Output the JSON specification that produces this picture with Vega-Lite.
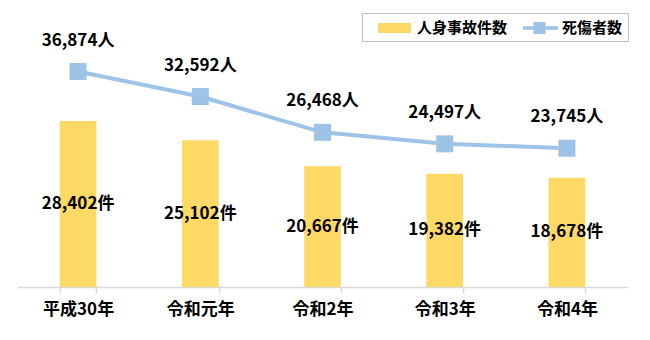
{
  "$schema": "https://vega.github.io/schema/vega-lite/v6.json",
  "width": 611,
  "height": 277,
  "autosize": {"type": "none"},
  "padding": {"left": 17, "top": 10, "right": 22, "bottom": 53},
  "background": "white",
  "config": {
    "view": {"stroke": null},
    "font": "Noto Sans CJK JP"
  },
  "data": {
    "values": [
      {"year": "平成30年", "series": "人身事故件数", "value": 28402},
      {"year": "令和元年", "series": "人身事故件数", "value": 25102},
      {"year": "令和2年", "series": "人身事故件数", "value": 20667},
      {"year": "令和3年", "series": "人身事故件数", "value": 19382},
      {"year": "令和4年", "series": "人身事故件数", "value": 18678},
      {"year": "平成30年", "series": "死傷者数", "value": 36874},
      {"year": "令和元年", "series": "死傷者数", "value": 32592},
      {"year": "令和2年", "series": "死傷者数", "value": 26468},
      {"year": "令和3年", "series": "死傷者数", "value": 24497},
      {"year": "令和4年", "series": "死傷者数", "value": 23745}
    ]
  },
  "encoding": {
    "x": {
      "field": "year",
      "type": "nominal",
      "sort": null,
      "scale": {"paddingInner": 0.7, "paddingOuter": 0.35},
      "axis": {
        "title": null,
        "labelAngle": 0,
        "labelFont": "Noto Sans CJK JP",
        "labelFontSize": 17,
        "labelFontWeight": "bold",
        "labelColor": "#000000",
        "labelPadding": 8,
        "domainColor": "#d9d9d9",
        "domainWidth": 1.5,
        "tickColor": "#d9d9d9",
        "tickWidth": 1.5,
        "tickSize": 6,
        "tickBand": "extent",
        "grid": false
      }
    }
  },
  "layer": [
    {
      "transform": [{"filter": "datum.series === '人身事故件数'"}],
      "mark": {"type": "bar"},
      "encoding": {
        "y": {"field": "value", "type": "quantitative", "scale": {"domain": [0, 47400], "nice": false}, "axis": null},
        "color": {
          "field": "series",
          "type": "nominal",
          "scale": {"domain": ["人身事故件数", "死傷者数"], "range": ["#FFD966", "#9DC3E6"]},
          "legend": {
            "orient": "none",
            "legendX": 345,
            "legendY": 3,
            "direction": "horizontal",
            "title": null,
            "strokeColor": "#bfbfbf",
            "padding": 5,
            "symbolSize": 400,
            "labelOffset": 30,
            "columnPadding": 4,
            "labelFont": "Noto Sans CJK JP",
            "labelFontSize": 15,
            "labelFontWeight": "bold",
            "labelColor": "#000000",
            "encode": {
              "symbols": {
                "update": {
                  "shape": {"signal": "datum.value === '人身事故件数' ? 'M0.1,-0.5H3.4V0.5H0.1Z' : 'M0.1,-0.18H1.15V-0.6H2.35V-0.18H3.6V0.18H2.35V0.6H1.15V0.18H0.1Z'"},
                  "fill": {"scale": "color", "field": "value"},
                  "stroke": {"value": "transparent"},
                  "strokeWidth": {"value": 0},
                  "opacity": {"value": 1}
                }
              }
            }
          }
        }
      }
    },
    {
      "transform": [{"filter": "datum.series === '人身事故件数'"}],
      "mark": {"type": "text", "font": "Noto Sans CJK JP", "fontSize": 17, "fontWeight": "bold", "color": "#000000", "baseline": "middle", "text": {"expr": "format(datum.value, ',') + '件'"}},
      "encoding": {
        "y": {"field": "value", "type": "quantitative", "scale": {"domain": [0, 94800], "nice": false}, "axis": null}
      }
    },
    {
      "transform": [{"filter": "datum.series === '死傷者数'"}],
      "mark": {"type": "line", "strokeWidth": 4},
      "encoding": {
        "y": {"field": "value", "type": "quantitative", "scale": {"domain": [0, 47400], "nice": false}, "axis": null},
        "color": {"field": "series", "type": "nominal"}
      }
    },
    {
      "transform": [{"filter": "datum.series === '死傷者数'"}],
      "mark": {"type": "point", "shape": "square", "filled": true, "size": 289, "color": "#9DC3E6", "opacity": 1},
      "encoding": {
        "y": {"field": "value", "type": "quantitative", "scale": {"domain": [0, 47400], "nice": false}, "axis": null}
      }
    },
    {
      "transform": [{"filter": "datum.series === '死傷者数'"}],
      "mark": {"type": "text", "font": "Noto Sans CJK JP", "fontSize": 17, "fontWeight": "bold", "color": "#000000", "baseline": "middle", "dy": -31, "text": {"expr": "format(datum.value, ',') + '人'"}},
      "encoding": {
        "y": {"field": "value", "type": "quantitative", "scale": {"domain": [0, 47400], "nice": false}, "axis": null}
      }
    }
  ],
  "resolve": {"scale": {"y": "independent"}}
}
